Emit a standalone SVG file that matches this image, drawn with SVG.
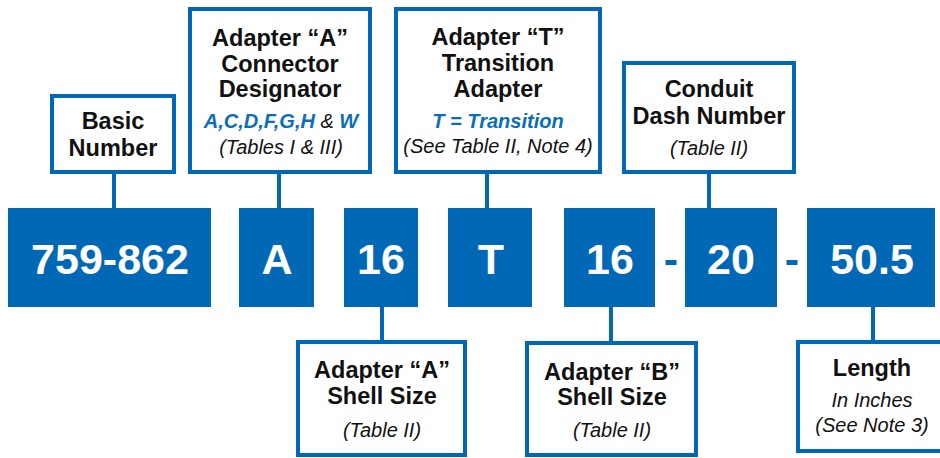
<svg xmlns="http://www.w3.org/2000/svg" width="940" height="458" viewBox="0 0 940 458">
<style>
.blk{fill:#0068b4}
.lbl{fill:#fff;stroke:#0068b4;stroke-width:4}
.code{font-family:"Liberation Sans",Arial,sans-serif;font-weight:bold;font-size:43px;fill:#fff;text-anchor:middle}
.dash{font-family:"Liberation Sans",Arial,sans-serif;font-weight:bold;font-size:43px;fill:#0068b4;text-anchor:middle}
.t{font-family:"Liberation Sans",Arial,sans-serif;font-weight:bold;font-size:23.5px;fill:#111;text-anchor:middle}
.i{font-family:"Liberation Sans",Arial,sans-serif;font-style:italic;font-size:20px;fill:#111;text-anchor:middle}
.bi{font-weight:bold;fill:#0a6eb8}
.con{stroke:#0068b4;stroke-width:4;fill:none}
</style>
<g id="connectors">
<line class="con" x1="114" y1="174" x2="114" y2="208"/>
<line class="con" x1="279" y1="174" x2="279" y2="208"/>
<line class="con" x1="487" y1="174" x2="487" y2="208"/>
<line class="con" x1="709" y1="174" x2="709" y2="208"/>
<line class="con" x1="382" y1="307" x2="382" y2="342"/>
<line class="con" x1="611" y1="307" x2="611" y2="343"/>
<line class="con" x1="873" y1="307" x2="873" y2="342"/>
</g>
<g id="code-basic"><rect class="blk" x="8" y="208" width="203" height="99"/><text class="code" x="110" y="274">759-862</text></g>
<g id="code-a"><rect class="blk" x="239" y="208" width="75" height="99"/><text class="code" x="277" y="274">A</text></g>
<g id="code-16a"><rect class="blk" x="344" y="208" width="74" height="99"/><text class="code" x="381" y="274">16</text></g>
<g id="code-t"><rect class="blk" x="448" y="208" width="84" height="99"/><text class="code" x="491" y="274">T</text></g>
<g id="code-16b"><rect class="blk" x="564" y="208" width="91" height="99"/><text class="code" x="610" y="274">16</text></g>
<g id="code-20"><rect class="blk" x="685" y="208" width="92" height="99"/><text class="code" x="731" y="274">20</text></g>
<g id="code-len"><rect class="blk" x="807" y="208" width="128" height="99"/><text class="code" x="872" y="274">50.5</text></g>
<g id="dashes"><text class="dash" x="671" y="274">-</text><text class="dash" x="792" y="274">-</text></g>
<g id="basic-number">
<rect class="lbl" x="52" y="96" width="122" height="76"/>
<text class="t" x="113" y="129">Basic</text>
<text class="t" x="113" y="156">Number</text>
</g>
<g id="adapter-a-designator">
<rect class="lbl" x="190" y="9" width="180" height="163"/>
<text class="t" x="280" y="46">Adapter “A”</text>
<text class="t" x="280" y="72">Connector</text>
<text class="t" x="280" y="97">Designator</text>
<text class="i" x="281" y="128"><tspan class="bi">A,C,D,F,G,H</tspan> &amp; <tspan class="bi">W</tspan></text>
<text class="i" x="281" y="154">(Tables I &amp; III)</text>
</g>
<g id="adapter-t">
<rect class="lbl" x="396" y="9" width="204" height="163"/>
<text class="t" x="498" y="45">Adapter “T”</text>
<text class="t" x="498" y="71">Transition</text>
<text class="t" x="498" y="97">Adapter</text>
<text class="i" x="498" y="128"><tspan class="bi">T = Transition</tspan></text>
<text class="i" x="498" y="153">(See Table II, Note 4)</text>
</g>
<g id="conduit-dash">
<rect class="lbl" x="624" y="63" width="170" height="109"/>
<text class="t" x="709" y="97">Conduit</text>
<text class="t" x="709" y="124">Dash Number</text>
<text class="i" x="709" y="155">(Table II)</text>
</g>
<g id="shell-a">
<rect class="lbl" x="298" y="342" width="167" height="113"/>
<text class="t" x="382" y="378">Adapter “A”</text>
<text class="t" x="382" y="404">Shell Size</text>
<text class="i" x="382" y="437">(Table II)</text>
</g>
<g id="shell-b">
<rect class="lbl" x="527" y="343" width="169" height="112"/>
<text class="t" x="612" y="380">Adapter “B”</text>
<text class="t" x="612" y="405">Shell Size</text>
<text class="i" x="612" y="437">(Table II)</text>
</g>
<g id="length">
<rect class="lbl" x="798" y="342" width="150" height="109"/>
<text class="t" x="872" y="376">Length</text>
<text class="i" x="872" y="407">In Inches</text>
<text class="i" x="872" y="432">(See Note 3)</text>
</g>
</svg>
